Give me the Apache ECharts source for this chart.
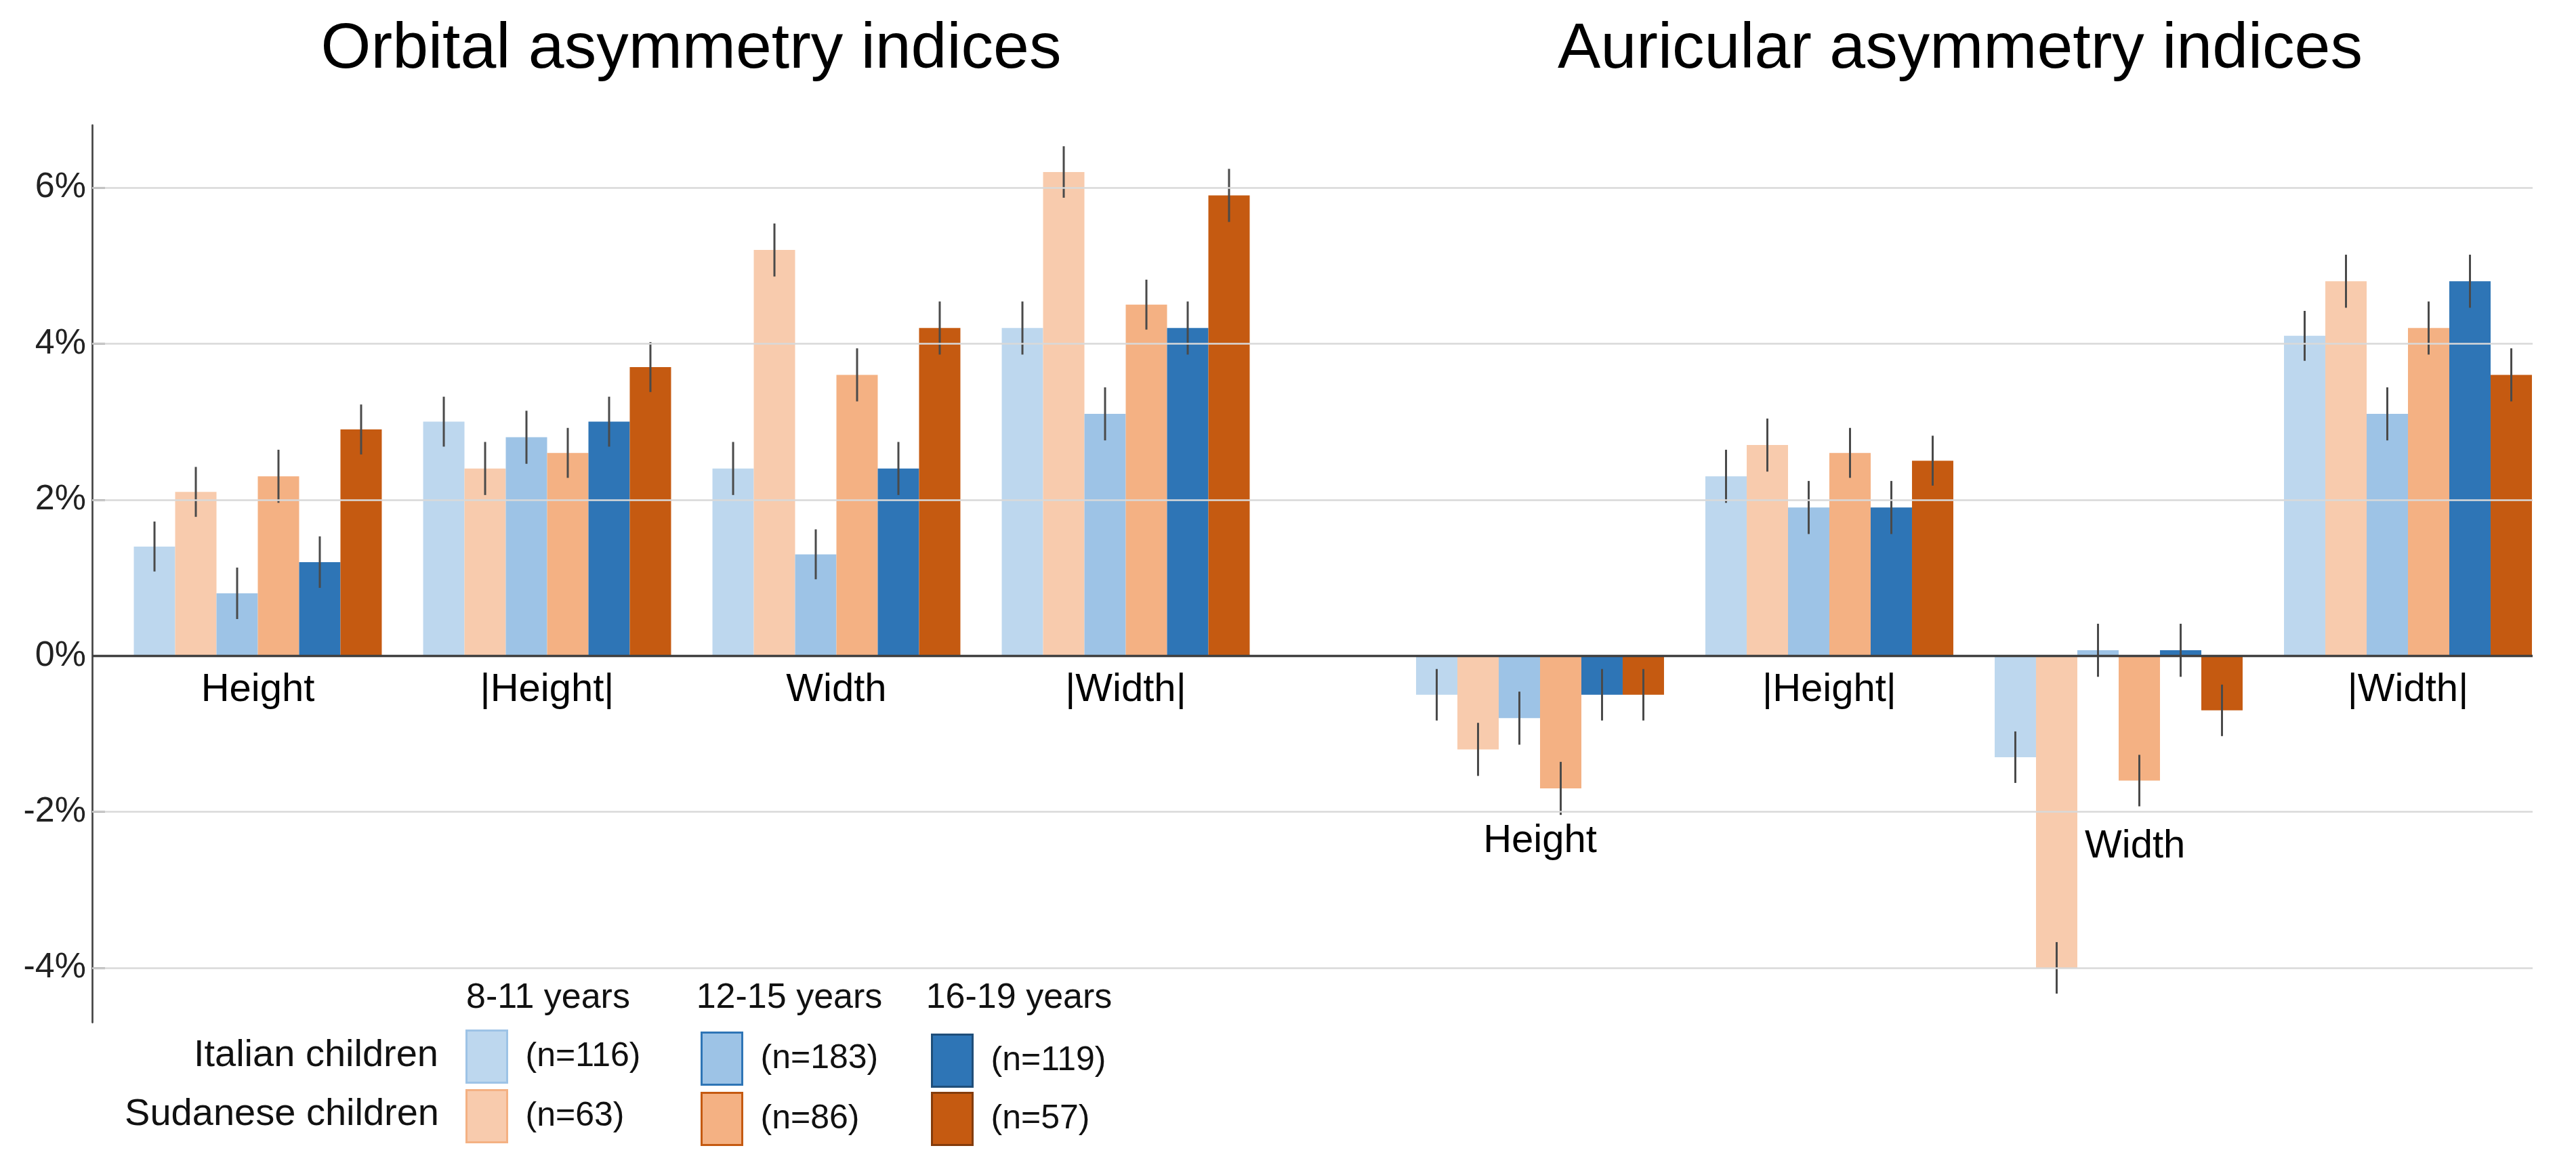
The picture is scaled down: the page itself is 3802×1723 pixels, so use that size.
<!DOCTYPE html>
<html><head><meta charset="utf-8">
<script src="https://cdn.jsdelivr.net/npm/echarts@6/dist/echarts.min.js"></script>
<style>html,body{margin:0;padding:0;background:#fff}#c{width:3802px;height:1723px}</style>
</head><body><div id="c"></div>
<script>
// ---------- DATA ----------
const categories = ['Height', '|Height|', 'Width', '|Width|'];
const panelTitles = ['Orbital asymmetry indices', 'Auricular asymmetry indices'];
const seriesNames = ['Italian children 8-11 years', 'Sudanese children 8-11 years',
  'Italian children 12-15 years', 'Sudanese children 12-15 years',
  'Italian children 16-19 years', 'Sudanese children 16-19 years'];
const sampleSizes = ['(n=116)', '(n=63)', '(n=183)', '(n=86)', '(n=119)', '(n=57)'];
const ageGroups = ['8-11 years', '12-15 years', '16-19 years'];
const populations = ['Italian children', 'Sudanese children'];
const yTicks = [-4, -2, 0, 2, 4, 6];

// Orbital (%), per series, in category order
const orbitalItalian8to11 = [1.4, 3.0, 2.4, 4.2];
const orbitalSudanese8to11 = [2.1, 2.4, 5.2, 6.2];
const orbitalItalian12to15 = [0.8, 2.8, 1.3, 3.1];
const orbitalSudanese12to15 = [2.3, 2.6, 3.6, 4.5];
const orbitalItalian16to19 = [1.2, 3.0, 2.4, 4.2];
const orbitalSudanese16to19 = [2.9, 3.7, 4.2, 5.9];
// Orbital error half-lengths (%)
const orbitalErrItalian8to11 = [0.32, 0.32, 0.34, 0.34];
const orbitalErrSudanese8to11 = [0.32, 0.34, 0.34, 0.33];
const orbitalErrItalian12to15 = [0.33, 0.34, 0.32, 0.34];
const orbitalErrSudanese12to15 = [0.34, 0.32, 0.34, 0.32];
const orbitalErrItalian16to19 = [0.33, 0.32, 0.34, 0.34];
const orbitalErrSudanese16to19 = [0.32, 0.32, 0.34, 0.34];

// Auricular (%)
const auricularItalian8to11 = [-0.5, 2.3, -1.3, 4.1];
const auricularSudanese8to11 = [-1.2, 2.7, -4.0, 4.8];
const auricularItalian12to15 = [-0.8, 1.9, 0.07, 3.1];
const auricularSudanese12to15 = [-1.7, 2.6, -1.6, 4.2];
const auricularItalian16to19 = [-0.5, 1.9, 0.07, 4.8];
const auricularSudanese16to19 = [-0.5, 2.5, -0.7, 3.6];
const auricularErrItalian8to11 = [0.33, 0.34, 0.33, 0.32];
const auricularErrSudanese8to11 = [0.34, 0.34, 0.33, 0.34];
const auricularErrItalian12to15 = [0.34, 0.34, 0.34, 0.34];
const auricularErrSudanese12to15 = [0.34, 0.32, 0.33, 0.34];
const auricularErrItalian16to19 = [0.33, 0.34, 0.34, 0.34];
const auricularErrSudanese16to19 = [0.33, 0.32, 0.33, 0.34];

// ---------- STYLE ----------
const FONT = '"Liberation Sans", Arial, Helvetica, sans-serif';
const colors = ['#BDD7EE', '#F8CBAD', '#9DC3E6', '#F4B183', '#2E75B6', '#C55A11'];
const borderColors = ['#9DC3E6', '#F4B183', '#2E75B6', '#C55A11', '#1F4E79', '#843C0C'];
const GAP = 0.143;
const Y_MIN = -4.7, Y_MAX = 6.8;
const GTOP = 184.8, GH = 1324.8;
const ZERO_OFFSET = -(GH * (0 - Y_MIN) / (Y_MAX - Y_MIN));

const orbital = [orbitalItalian8to11, orbitalSudanese8to11, orbitalItalian12to15, orbitalSudanese12to15, orbitalItalian16to19, orbitalSudanese16to19];
const orbitalErr = [orbitalErrItalian8to11, orbitalErrSudanese8to11, orbitalErrItalian12to15, orbitalErrSudanese12to15, orbitalErrItalian16to19, orbitalErrSudanese16to19];
const auricular = [auricularItalian8to11, auricularSudanese8to11, auricularItalian12to15, auricularSudanese12to15, auricularItalian16to19, auricularSudanese16to19];
const auricularErr = [auricularErrItalian8to11, auricularErrSudanese8to11, auricularErrItalian12to15, auricularErrSudanese12to15, auricularErrItalian16to19, auricularErrSudanese16to19];

function barSeries(vals, axisIdx) {
  return vals.map((d, k) => ({
    type: 'bar', name: seriesNames[k], xAxisIndex: axisIdx, yAxisIndex: axisIdx,
    data: d, barGap: '0%', barCategoryGap: (GAP * 100) + '%',
    itemStyle: { color: colors[k] }, z: 2, silent: true
  }));
}
function errSeries(vals, errs, axisIdx) {
  const data = [];
  vals.forEach((d, k) => d.forEach((v, c) => data.push([c, k, v, errs[k][c]])));
  return {
    type: 'custom', xAxisIndex: axisIdx, yAxisIndex: axisIdx, data: data, z: 4, silent: true,
    encode: { x: 0, y: 2 },
    renderItem: function (params, api) {
      const c = api.value(0), k = api.value(1), v = api.value(2), e = api.value(3);
      const bw = api.size([1, 0])[0];
      const barW = bw * (1 - GAP) / 6;
      const x = api.coord([c, 0])[0] - 3 * barW + (k + 0.5) * barW;
      const y1 = api.coord([c, v + e])[1];
      const y2 = api.coord([c, v - e])[1];
      return { type: 'line', shape: { x1: x, y1: y1, x2: x, y2: y2 }, style: { stroke: '#4a4a4a', lineWidth: 3 } };
    }
  };
}
const catRich = {
  a: { fontSize: 58, fontFamily: FONT, color: '#000', lineHeight: 58 },
  b: { fontSize: 58, fontFamily: FONT, color: '#000', lineHeight: 504 },
  c: { fontSize: 58, fontFamily: FONT, color: '#000', lineHeight: 520 }
};
const legendPos = [[687, 1520], [687, 1608], [1034, 1523], [1034, 1612], [1374, 1526], [1374, 1612]];
const hiddenY = { type: 'value', min: Y_MIN, max: Y_MAX, axisLine: { show: false }, axisTick: { show: false }, axisLabel: { show: false }, splitLine: { show: false } };

const option = {
  animation: false,
  backgroundColor: '#ffffff',
  grid: [
    { left: 136, top: GTOP, width: 3602, height: GH, outerBoundsMode: 'none', containLabel: false },
    { left: 167, top: GTOP, width: 1708, height: GH, outerBoundsMode: 'none', containLabel: false },
    { left: 2059.5, top: GTOP, width: 1708, height: GH, outerBoundsMode: 'none', containLabel: false }
  ],
  xAxis: [
    { gridIndex: 0, type: 'value', min: 0, max: 1, show: false },
    { gridIndex: 1, type: 'category', data: categories, position: 'bottom', offset: ZERO_OFFSET,
      axisLine: { show: false, onZero: false }, axisTick: { show: false },
      axisLabel: { interval: 0, margin: 22, formatter: v => '{a|' + v + '}', rich: catRich } },
    { gridIndex: 2, type: 'category', data: categories, position: 'bottom', offset: ZERO_OFFSET,
      axisLine: { show: false, onZero: false }, axisTick: { show: false },
      axisLabel: { interval: 0, margin: 22, formatter: function (v) {
        if (v === 'Height') return '{b|' + v + '}';
        if (v === 'Width') return '{c|   ' + v + '}';
        return '{a|' + v + '}';
      }, rich: catRich } }
  ],
  yAxis: [
    { gridIndex: 0, type: 'value', min: Y_MIN, max: Y_MAX,
      axisLine: { show: true, lineStyle: { color: '#444', width: 2.7 } },
      axisTick: { show: true, inside: true, length: 19, customValues: yTicks, lineStyle: { color: '#444', width: 3 } },
      axisLabel: { customValues: yTicks, formatter: v => v + '%', fontSize: 52, fontFamily: FONT, color: '#222', margin: 9 },
      splitLine: { show: false } },
    Object.assign({ gridIndex: 1 }, hiddenY),
    Object.assign({ gridIndex: 2 }, hiddenY)
  ],
  legend: seriesNames.map((name, k) => ({
    data: [name], left: legendPos[k][0], top: legendPos[k][1], padding: 0,
    itemWidth: 60, itemHeight: 77, icon: 'rect', selectedMode: false,
    itemStyle: { borderColor: borderColors[k], borderWidth: 3 },
    formatter: () => sampleSizes[k],
    textStyle: { fontSize: 50, fontFamily: FONT, color: '#111', padding: [0, 0, 0, 22] }
  })),
  graphic: [
    { type: 'text', x: 1020, y: 74, style: { text: panelTitles[0], fontSize: 95, fontFamily: FONT, fill: '#000', align: 'center', verticalAlign: 'middle' } },
    { type: 'text', x: 2893, y: 74, style: { text: panelTitles[1], fontSize: 95, fontFamily: FONT, fill: '#000', align: 'center', verticalAlign: 'middle' } },
    { type: 'text', x: 809, y: 1474, style: { text: ageGroups[0], fontSize: 52, fontFamily: FONT, fill: '#111', align: 'center', verticalAlign: 'middle' } },
    { type: 'text', x: 1165, y: 1474, style: { text: ageGroups[1], fontSize: 52, fontFamily: FONT, fill: '#111', align: 'center', verticalAlign: 'middle' } },
    { type: 'text', x: 1504, y: 1474, style: { text: ageGroups[2], fontSize: 52, fontFamily: FONT, fill: '#111', align: 'center', verticalAlign: 'middle' } },
    { type: 'text', x: 647, y: 1559, style: { text: populations[0], fontSize: 56, fontFamily: FONT, fill: '#111', align: 'right', verticalAlign: 'middle' } },
    { type: 'text', x: 648, y: 1646, style: { text: populations[1], fontSize: 56, fontFamily: FONT, fill: '#111', align: 'right', verticalAlign: 'middle' } }
  ],
  series: [
    { type: 'line', xAxisIndex: 0, yAxisIndex: 0, data: [], silent: true, z: 0,
      markLine: { silent: true, symbol: ['none', 'none'], label: { show: false }, animation: false,
        lineStyle: { color: '#d9d9d9', width: 2.7, type: 'solid' },
        emphasis: { disabled: true },
        data: yTicks.filter(v => v !== 0).map(v => ({ yAxis: v })) } },
    { type: 'line', xAxisIndex: 0, yAxisIndex: 0, data: [], silent: true, z: 6,
      markLine: { silent: true, symbol: ['none', 'none'], label: { show: false }, animation: false,
        lineStyle: { color: '#404040', width: 3.4, type: 'solid' },
        emphasis: { disabled: true },
        data: [{ yAxis: 0 }] } }
  ].concat(barSeries(orbital, 1), barSeries(auricular, 2), [errSeries(orbital, orbitalErr, 1), errSeries(auricular, auricularErr, 2)])
};

const chart = echarts.init(document.getElementById('c'), null, { renderer: 'canvas' });
chart.setOption(option);
</script>
</body></html>
